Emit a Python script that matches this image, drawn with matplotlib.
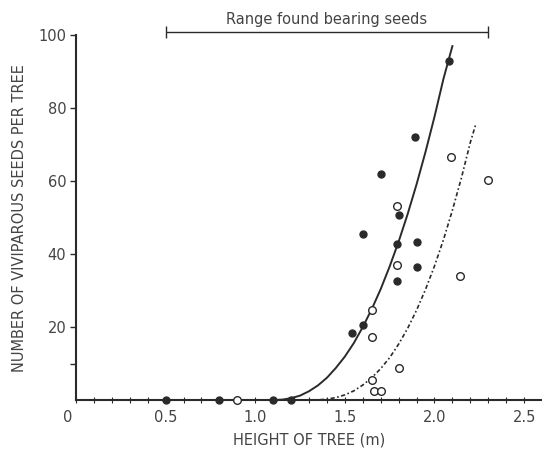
import matplotlib
matplotlib.use("Agg")
import matplotlib.pyplot as plt
import matplotlib.transforms as mtransforms
import numpy as np

# points
FILLED_X = [0.5, 0.8, 1.1, 1.2, 1.54, 1.60, 1.60, 1.70, 1.79, 1.79, 1.80, 1.89, 1.90, 1.90, 2.08]
FILLED_Y = [0, 0, 0, 0, 18.5, 20.5, 45.5, 62, 32.7, 42.8, 50.6, 72, 43.3, 36.5, 93]

OPEN_X = [0.9, 1.65, 1.65, 1.65, 1.66, 1.70, 1.79, 1.79, 1.80, 2.09, 2.14, 2.30]
OPEN_Y = [0, 24.8, 17.3, 5.6, 2.5, 2.5, 37, 53.2, 8.7, 66.6, 34, 60.4]

# fitted curves
SOLID_X = [1.1, 1.15, 1.2, 1.25, 1.3, 1.35, 1.4, 1.45, 1.5, 1.55, 1.6, 1.65, 1.7,
           1.75, 1.8, 1.85, 1.9, 1.95, 2.0, 2.05, 2.1]
SOLID_Y = [0, 0.1, 0.5, 1.2, 2.4, 4.0, 6.1, 8.8, 11.9, 15.6, 20, 24.9, 30.4,
           36.6, 43.4, 50.9, 59.1, 68, 77.6, 88, 97]

DASH_X = [1.3, 1.35, 1.4, 1.45, 1.5, 1.55, 1.6, 1.65, 1.7, 1.75, 1.8, 1.85, 1.9,
          1.95, 2.0, 2.05, 2.1, 2.15, 2.2, 2.23]
DASH_Y = [0, 0.04, 0.23, 0.67, 1.4, 2.5, 4.1, 6.1, 8.6, 11.6, 15.3, 19.6, 24.6,
          30.3, 36.7, 43.9, 52, 60.8, 70.6, 75.5]

RANGE = [0.5, 2.3]

X_TICKS = [0, 0.5, 1.0, 1.5, 2.0, 2.5]
X_LABELS = ["0", "0.5", "1.0", "1.5", "2.0", "2.5"]
Y_TICKS = [20, 40, 60, 80, 100]

INK = "#2a2a2a"
TEXT = "#444444"

fig = plt.figure(figsize=(5.42, 4.51), dpi=100)
ax = fig.add_axes([76 / 542, 51 / 451, 466 / 542, 394 / 451])

ax.plot(SOLID_X, SOLID_Y, color=INK, lw=1.4)
ax.plot(DASH_X, DASH_Y, color=INK, lw=1.2, linestyle=(0, (2.5, 1.5, 1, 1.5)))

ax.plot(FILLED_X, FILLED_Y, "o", ms=5, color=INK, mec=INK, clip_on=False, zorder=5)
ax.plot(OPEN_X, OPEN_Y, "o", ms=5.5, mfc="white", mec=INK, mew=1.0, clip_on=False, zorder=5)

# range bar
ax.errorbar([sum(RANGE) / 2], [100.8], xerr=[[(RANGE[1] - RANGE[0]) / 2]], color=INK,
            lw=1.0, capsize=4, capthick=1.0, clip_on=False)
ax.text(sum(RANGE) / 2, 102.3, "Range found bearing seeds", ha="center", va="bottom",
        fontsize=10.5, color=TEXT)

ax.set_xlim(0, 2.6)
ax.set_ylim(0, 108)

for s in ["top", "right"]:
    ax.spines[s].set_visible(False)
ax.spines["left"].set_bounds(0, 100)
ax.spines["left"].set_color(INK)
ax.spines["bottom"].set_color(INK)
ax.spines["left"].set_linewidth(1.5)
ax.spines["bottom"].set_linewidth(1.5)

ax.set_xticks(X_TICKS)
ax.set_xticklabels(X_LABELS)
ax.set_xticks(np.arange(1, 26) / 10, minor=True)
ax.tick_params(axis="x", which="both", direction="inout", length=5, width=0.8,
               color=INK, labelsize=10.5, labelcolor=TEXT, pad=5)
ax.set_yticks(Y_TICKS)
ax.set_yticks([10], minor=True)
ax.tick_params(axis="y", which="both", direction="out", length=4, width=1, color=INK,
               labelsize=10.5, labelcolor=TEXT, pad=3)

# the "0" sits left of the origin in the original
zero = ax.get_xticklabels()[0]
zero.set_transform(zero.get_transform() + mtransforms.ScaledTranslation(-8 / 100, 0, fig.dpi_scale_trans))

ax.set_xlabel("HEIGHT OF TREE (m)", fontsize=10.5, color=TEXT, labelpad=5)
ax.set_ylabel("NUMBER OF VIVIPAROUS SEEDS PER TREE", fontsize=10.5, color=TEXT)
ax.yaxis.set_label_coords(-0.105, 50 / 108)

fig.savefig("out.png", dpi=100)
